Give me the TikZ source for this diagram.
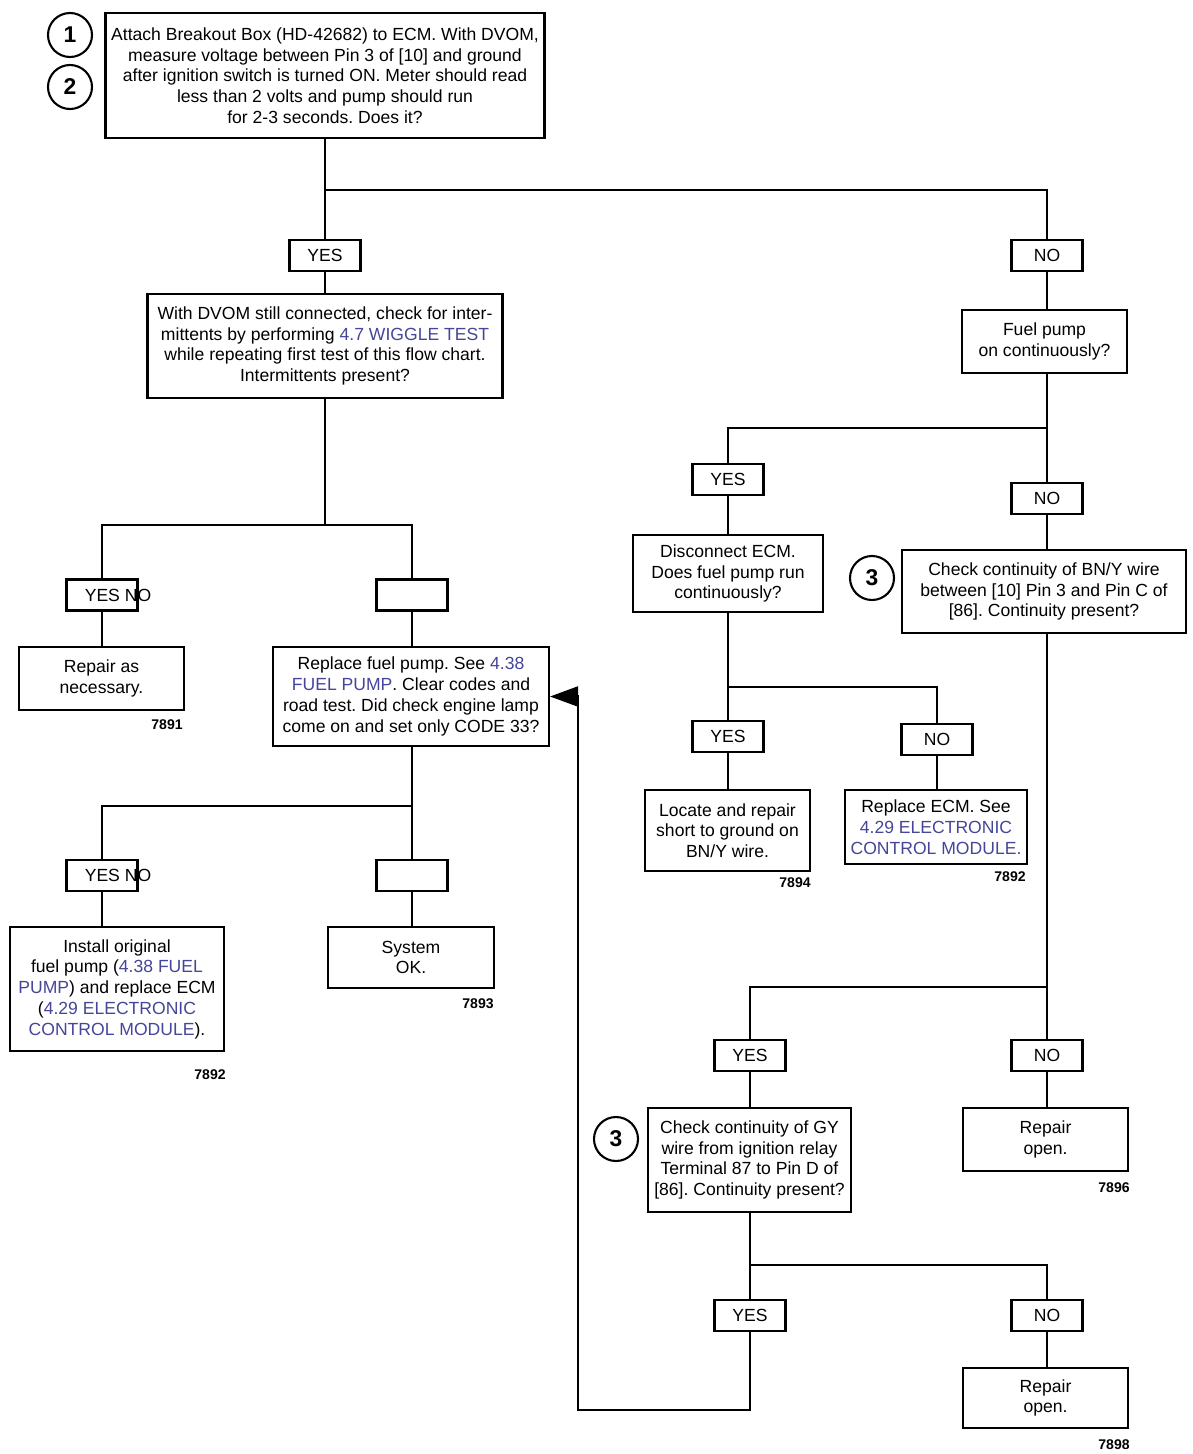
\documentclass[tikz,border=0pt]{standalone}
\usepackage{fontspec}
\setmainfont{Liberation Sans}
\usepackage{xcolor}
\usetikzlibrary{arrows.meta,positioning}
\definecolor{linkc}{HTML}{45459A}
\newcommand{\lk}[1]{\textcolor{linkc}{#1}}
\frenchspacing
\tikzset{
  stepnode/.style={rectangle, draw=black, line width=1.2pt, fill=white,
    inner sep=0pt, font=\fontsize{10}{11.8}\selectfont, align=center},
  labelnode/.style={rectangle, draw=black, line width=1.2pt, fill=white,
    minimum width=1.42cm, minimum height=0.62cm, inner sep=0pt,
    font=\fontsize{10}{11.8}\selectfont},
  labeltext/.style={inner sep=0pt, font=\fontsize{10}{11.8}\selectfont},
  refnode/.style={circle, draw=black, line width=1.2pt, minimum size=0.88cm,
    inner sep=0pt, font=\bfseries\fontsize{13}{14}\selectfont},
  codenode/.style={inner sep=0pt, font=\bfseries\fontsize{8}{9}\selectfont},
  flowedge/.style={draw=black, line width=1.2pt},
  returnedge/.style={flowedge, -{Triangle[length=5.6mm, width=4mm]}},
}
\begin{document}
\begin{tikzpicture}[x=0.02cm, y=-0.02cm]
  \useasboundingbox (0,0) rectangle (1193,1454);
  % first test
  \node[stepnode, minimum width=8.78cm, minimum height=2.5cm] (q1) at (325,75.5)
    {Attach Breakout Box (HD-42682) to ECM. With DVOM,\\ measure voltage between Pin 3 of [10] and ground\\ after ignition switch is turned ON. Meter should read\\ less than 2 volts and pump should run\\ for 2-3 seconds. Does it?};
  \node[refnode] (r1) at (70,35) {1};
  \node[refnode] (r2) at (70,87) {2};
  \node[labelnode] (yesA) at (325,255.5) {YES};
  \node[labelnode] (noA) at (1047,255.5) {NO};
  \coordinate (jA) at (325,190);
  \draw[flowedge] (q1) -- (yesA);
  \draw[flowedge] (jA) -| (noA);

  % left column
  \node[stepnode, minimum width=7.1cm, minimum height=2.08cm] (q2) at (325,346)
    {With DVOM still connected, check for inter-\\ mittents by performing \lk{4.7 WIGGLE TEST}\\ while repeating first test of this flow chart.\\ Intermittents present?};
  \draw[flowedge] (yesA) -- (q2);
  \coordinate (jB) at (325,525);
  \node[labelnode] (ynA) at (102,595) {};
  \node[labeltext] (ynAtxt) at ([xshift=0.32cm]ynA.center) {YES NO};
  \node[labelnode] (blankA) at (412,595) {};
  \draw[flowedge] (q2) -- (jB);
  \draw[flowedge] (jB) -| (ynA);
  \draw[flowedge] (jB) -| (blankA);
  \node[stepnode, minimum width=3.3cm, minimum height=1.26cm] (repA) at (101.5,678.5)
    {Repair as\\ necessary.};
  \node[codenode, below left=1.6mm and 0.04cm of repA.south east] (c7891) {7891};
  \node[stepnode, minimum width=5.52cm, minimum height=1.98cm] (q3) at (411,696.5)
    {Replace fuel pump. See \lk{4.38}\\ \lk{FUEL PUMP}. Clear codes and\\ road test. Did check engine lamp\\ come on and set only CODE 33?};
  \draw[flowedge] (ynA) -- (ynA |- repA.north);
  \draw[flowedge] (blankA) -- (blankA |- q3.north);

  \coordinate (jG) at (412,806);
  \node[labelnode] (ynB) at (102,875.5) {};
  \node[labeltext] (ynBtxt) at ([xshift=0.32cm]ynB.center) {YES NO};
  \node[labelnode] (blankB) at (412,875.5) {};
  \draw[flowedge] (q3.south -| jG) -- (jG) -| (ynB);
  \draw[flowedge] (jG) -- (blankB);
  \node[stepnode, minimum width=4.28cm, minimum height=2.48cm] (inst) at (117,989)
    {Install original\\ fuel pump (\lk{4.38 FUEL}\\ \lk{PUMP}) and replace ECM\\ (\lk{4.29 ELECTRONIC}\\ \lk{CONTROL MODULE}).};
  \node[codenode, below left=3.4mm and -0.02cm of inst.south east] (c7892a) {7892};
  \node[stepnode, minimum width=3.32cm, minimum height=1.22cm] (sysok) at (411,957.5)
    {System\\ OK.};
  \node[codenode, below left=1.8mm and 0.02cm of sysok.south east] (c7893) {7893};
  \draw[flowedge] (ynB) -- (ynB |- inst.north);
  \draw[flowedge] (blankB) -- (blankB |- sysok.north);

  % right column
  \node[stepnode, minimum width=3.3cm, minimum height=1.26cm] (fuel) at (1044.5,341.5)
    {Fuel pump\\ on continuously?};
  \draw[flowedge] (noA) -- (noA |- fuel.north);
  \coordinate (jC) at (1047,428);
  \node[labelnode] (yesB) at (728,479.5) {YES};
  \node[labelnode] (noB) at (1047,498.5) {NO};
  \draw[flowedge] (fuel.south -| jC) -- (jC) -| (yesB);
  \draw[flowedge] (jC) -- (noB);
  \node[stepnode, minimum width=3.8cm, minimum height=1.54cm] (disc) at (728,573.5)
    {Disconnect ECM.\\ Does fuel pump run\\ continuously?};
  \node[stepnode, minimum width=5.68cm, minimum height=1.66cm] (bny) at (1044,591.5)
    {Check continuity of BN/Y wire\\ between [10] Pin 3 and Pin C of\\ {[86]}. Continuity present?};
  \node[refnode] (r3a) at (872,578) {3};
  \draw[flowedge] (yesB) -- (disc);
  \draw[flowedge] (noB) -- (noB |- bny.north);

  \coordinate (jD) at (728,687);
  \node[labelnode] (yesC) at (728,736.5) {YES};
  \node[labelnode] (noC) at (937,739.5) {NO};
  \draw[flowedge] (disc) -- (yesC);
  \draw[flowedge] (jD) -| (noC);
  \node[stepnode, minimum width=3.3cm, minimum height=1.62cm] (locate) at (727.5,830.5)
    {Locate and repair\\ short to ground on\\ BN/Y wire.};
  \node[codenode, below left=1mm and 0cm of locate.south east] (c7894) {7894};
  \node[stepnode, minimum width=3.64cm, minimum height=1.48cm] (recm) at (936,827)
    {Replace ECM. See\\ \lk{4.29 ELECTRONIC}\\ \lk{CONTROL MODULE.}};
  \node[codenode, below left=1.2mm and 0.04cm of recm.south east] (c7892b) {7892};
  \draw[flowedge] (yesC) -- (yesC |- locate.north);
  \draw[flowedge] (noC) -- (noC |- recm.north);

  \coordinate (jE) at (1047,987);
  \node[labelnode] (yesD) at (750,1055.5) {YES};
  \node[labelnode] (noD) at (1047,1055.5) {NO};
  \draw[flowedge] (bny.south -| jE) -- (jE) -| (yesD);
  \draw[flowedge] (jE) -- (noD);
  \node[stepnode, minimum width=4.06cm, minimum height=2.08cm] (gy) at (749.5,1160)
    {Check continuity of GY\\ wire from ignition relay\\ Terminal 87 to Pin D of\\ {[86]}. Continuity present?};
  \node[refnode] (r3b) at (616,1139) {3};
  \node[stepnode, minimum width=3.3cm, minimum height=1.26cm] (ropenA) at (1045.5,1139.5)
    {Repair\\ open.};
  \node[codenode, below left=2mm and -0.02cm of ropenA.south east] (c7896) {7896};
  \draw[flowedge] (yesD) -- (yesD |- gy.north);
  \draw[flowedge] (noD) -- (noD |- ropenA.north);

  \coordinate (jF) at (750,1265);
  \node[labelnode] (yesE) at (750,1315.5) {YES};
  \node[labelnode] (noE) at (1047,1315.5) {NO};
  \draw[flowedge] (gy.south -| jF) -- (yesE);
  \draw[flowedge] (jF) -| (noE);
  \node[stepnode, minimum width=3.3cm, minimum height=1.2cm] (ropenB) at (1045.5,1398)
    {Repair\\ open.};
  \node[codenode, below left=2mm and -0.02cm of ropenB.south east] (c7898) {7898};
  \draw[flowedge] (noE) -- (noE |- ropenB.north);

  % back to the pump test
  \coordinate (back) at (578,1410);
  \draw[returnedge] (yesE) |- (back) |- (q3.east);
\end{tikzpicture}
\end{document}
